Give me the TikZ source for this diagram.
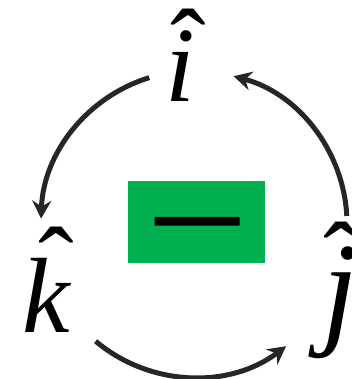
\documentclass[tikz,border=0pt]{standalone}
\usepackage{fontspec}
\setmainfont{Liberation Serif}
\newfontfamily\minusfont{Liberation Sans}
\usetikzlibrary{arrows.meta}
\definecolor{boxgreen}{RGB}{0,176,80}
\definecolor{arcgray}{RGB}{38,38,38}
\tikzset{
  letter/.style={inner sep=0pt, anchor=base west, font=\fontsize{107}{107}\selectfont\itshape},
  hatmark/.style={inner sep=0pt, anchor=base west, font=\fontsize{107}{107}\selectfont},
  cyc/.style={line width=5pt, draw=arcgray, -{Stealth[length=18pt,width=19pt,inset=6pt]}},
}
\begin{document}
\begin{tikzpicture}[x=1pt,y=1pt]
\useasboundingbox (0,0) rectangle (352,379);
% green box with minus
\node[fill=boxgreen, minimum width=137pt, minimum height=82pt, inner sep=0pt] (box) at (196.5,157) {};
\node[inner sep=0pt, anchor=base, font=\fontsize{175}{175}\selectfont\minusfont, yscale=0.7] (minus) at (198,116) {−};
% letters
\node[letter] (i) at (165,277) {i};
\node[hatmark] (ihat) at (170,295) {ˆ};
\node[letter] (k) at (22,46) {k};
\node[hatmark] (khat) at (38,77) {ˆ};
\node[letter, font=\fontsize{128}{128}\selectfont\itshape] (j) at (322,47) {j};
\node[hatmark] (jhat) at (323,82) {ˆ};
% arcs
\coordinate (c) at (194,155);
\coordinate (ik) at ([shift={(107:153)}]c);
\coordinate (kj) at ([shift={(230:153)}]c);
\coordinate (ji) at ([shift={(3:153)}]c);
\draw[cyc] (ik) arc[start angle=107, end angle=178, radius=153];
\draw[cyc] (kj) arc[start angle=230, end angle=307, radius=153];
\draw[cyc] (ji) arc[start angle=3, end angle=75, radius=153];
\end{tikzpicture}
\end{document}
